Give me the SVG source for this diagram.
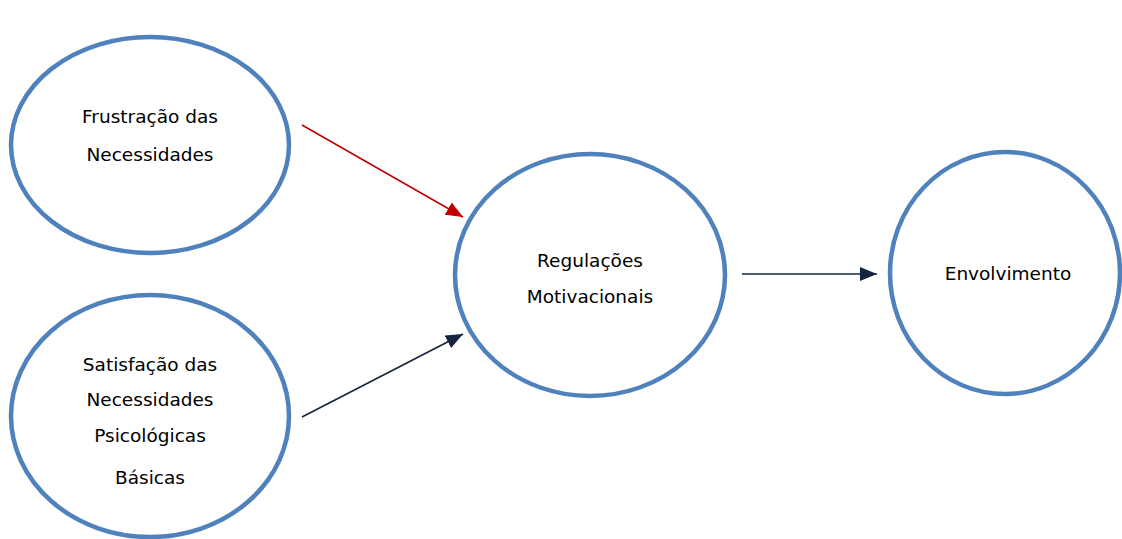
<svg xmlns="http://www.w3.org/2000/svg" width="1122" height="539" viewBox="0 0 1122 539">
<style>
.node{fill:#fff;stroke:#4F81BD;stroke-width:4.5}
.lbl{font-family:"DejaVu Sans",sans-serif;font-size:18.5px;fill:#000;text-anchor:middle}
.red{stroke:#C00000;stroke-width:1.6;fill:none}
.dark{stroke:#14243F;stroke-width:1.6;fill:none}
</style>
<defs>
<marker id="ar" markerUnits="userSpaceOnUse" markerWidth="18" markerHeight="14" refX="17" refY="7" orient="auto"><path d="M0,0 L17,7 L0,14 Z" fill="#C00000"/></marker>
<marker id="ad" markerUnits="userSpaceOnUse" markerWidth="18" markerHeight="14" refX="17" refY="7" orient="auto"><path d="M0,0 L17,7 L0,14 Z" fill="#14243F"/></marker>
</defs>
<rect width="1122" height="539" fill="#fff"/>
<g id="connectors">
<line class="red" x1="302" y1="125" x2="463" y2="217" marker-end="url(#ar)"/>
<line class="dark" x1="302" y1="417" x2="463" y2="334" marker-end="url(#ad)"/>
<line class="dark" x1="742" y1="274" x2="877" y2="274" marker-end="url(#ad)"/>
</g>
<g id="frustracao">
<ellipse class="node" cx="150" cy="145" rx="139" ry="108"/>
<text class="lbl" x="150" y="123">Frustração das</text>
<text class="lbl" x="150" y="161">Necessidades</text>
</g>
<g id="satisfacao">
<ellipse class="node" cx="150" cy="416" rx="139" ry="121"/>
<text class="lbl" x="150" y="371">Satisfação das</text>
<text class="lbl" x="150" y="406">Necessidades</text>
<text class="lbl" x="150" y="442">Psicológicas</text>
<text class="lbl" x="150" y="484">Básicas</text>
</g>
<g id="regulacoes">
<ellipse class="node" cx="590" cy="275" rx="135" ry="121"/>
<text class="lbl" x="590" y="267">Regulações</text>
<text class="lbl" x="590" y="303">Motivacionais</text>
</g>
<g id="envolvimento">
<ellipse class="node" cx="1005" cy="273" rx="115" ry="121"/>
<text class="lbl" x="1008" y="280">Envolvimento</text>
</g>
</svg>
